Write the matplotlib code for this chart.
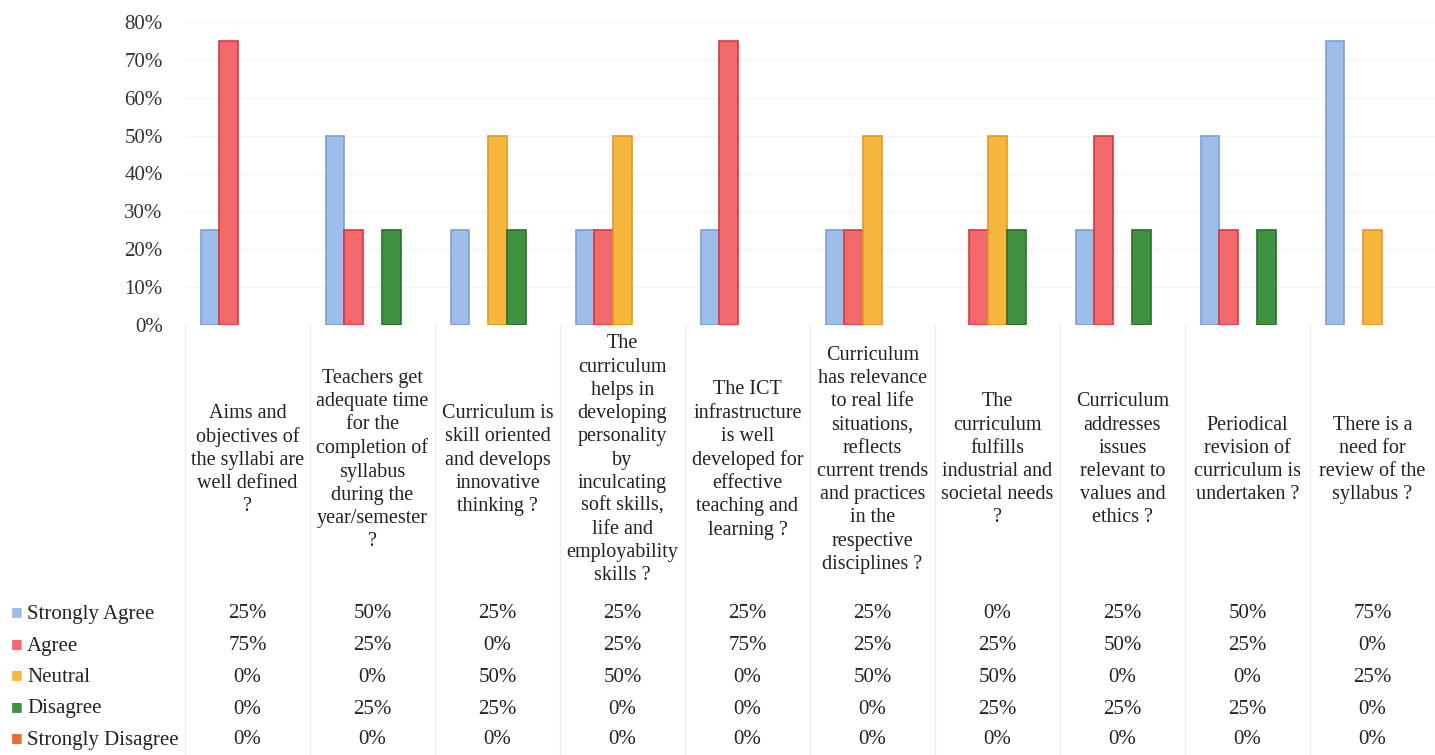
import matplotlib
matplotlib.use("Agg")
import matplotlib.pyplot as plt
import numpy as np

categories = [
    "Aims and\nobjectives of\nthe syllabi are\nwell defined\n?",
    "Teachers get\nadequate time\nfor the\ncompletion of\nsyllabus\nduring the\nyear/semester\n?",
    "Curriculum is\nskill oriented\nand develops\ninnovative\nthinking ?",
    "The\ncurriculum\nhelps in\ndeveloping\npersonality\nby\ninculcating\nsoft skills,\nlife and\nemployability\nskills ?",
    "The ICT\ninfrastructure\nis well\ndeveloped for\neffective\nteaching and\nlearning ?",
    "Curriculum\nhas relevance\nto real life\nsituations,\nreflects\ncurrent trends\nand practices\nin the\nrespective\ndisciplines ?",
    "The\ncurriculum\nfulfills\nindustrial and\nsocietal needs\n?",
    "Curriculum\naddresses\nissues\nrelevant to\nvalues and\nethics ?",
    "Periodical\nrevision of\ncurriculum is\nundertaken ?",
    "There is a\nneed for\nreview of the\nsyllabus ?",
]
series_names = ["Strongly Agree", "Agree", "Neutral", "Disagree", "Strongly Disagree"]
strongly_agree = [25, 50, 25, 25, 25, 25, 0, 25, 50, 75]
agree = [75, 25, 0, 25, 75, 25, 25, 50, 25, 0]
neutral = [0, 0, 50, 50, 0, 50, 50, 0, 0, 25]
disagree = [0, 25, 25, 0, 0, 0, 25, 25, 25, 0]
strongly_disagree = [0, 0, 0, 0, 0, 0, 0, 0, 0, 0]
yticks = [0, 10, 20, 30, 40, 50, 60, 70, 80]

series = [strongly_agree, agree, neutral, disagree, strongly_disagree]
face = ["#9fbde9", "#f2696c", "#f6b73c", "#3f923f", "#f26a2c"]
edge = ["#7d9fd6", "#d8383c", "#e09a22", "#2a6e2a", "#d44f18"]

W, H = 1435, 755
plt.rcParams["font.family"] = ["Liberation Serif", "DejaVu Serif"]
fig = plt.figure(figsize=(W / 100, H / 100), dpi=100)

ax = fig.add_axes([185 / W, 1 - 325 / H, 1 - 185 / W, (325 - 22) / H])
n = len(categories)
x = np.arange(n)
bw = 0.15
for i, (vals, fc, ec) in enumerate(zip(series, face, edge)):
    ecs = [ec if v > 0 else "none" for v in vals]
    ax.bar(x + (i - 2) * bw, vals, width=bw, color=fc, edgecolor=ecs, linewidth=1.2, zorder=3)
ax.set_xlim(-0.5, n - 0.5)
ax.set_ylim(0, 80)
ax.set_yticks(yticks)
ax.set_yticklabels([f"{t}%" for t in yticks], fontsize=15, color="#333333")
ax.tick_params(axis="y", length=0, pad=16)
ax.set_xticks([])
for s in ax.spines.values():
    s.set_visible(False)
ax.grid(axis="y", color="#f5f5f5", linewidth=1, zorder=0)

# table area (pixel coordinates, y downwards)
tax = fig.add_axes([0, 0, 1, (H - 325) / H])
tax.set_xlim(0, W)
tax.set_ylim(H, 325)
tax.axis("off")
col_w = (W - 185) / n
for j in range(n + 1):
    xb = 185 + j * col_w
    tax.plot([xb, xb], [325, H], color="#ececec", linewidth=1)

for j, lab in enumerate(categories):
    cx = 185 + (j + 0.5) * col_w
    tax.text(cx, 460, lab, ha="center", va="center", fontsize=14.5,
             linespacing=1.3, color="#222222")

row_y = [614, 646, 677, 709, 740]
for i, (name, vals) in enumerate(zip(series_names, series)):
    y = row_y[i]
    tax.text(11, y - 2, "\u25A0", ha="left", va="center", fontsize=9, color=face[i],
             family=["DejaVu Sans"])
    tax.text(27, y, name, ha="left", va="center", fontsize=15, color="#222222")
    for j, v in enumerate(vals):
        cx = 185 + (j + 0.5) * col_w
        tax.text(cx, y, f"{v}%", ha="center", va="center", fontsize=15, color="#222222")

fig.savefig("out.png", dpi=100)
